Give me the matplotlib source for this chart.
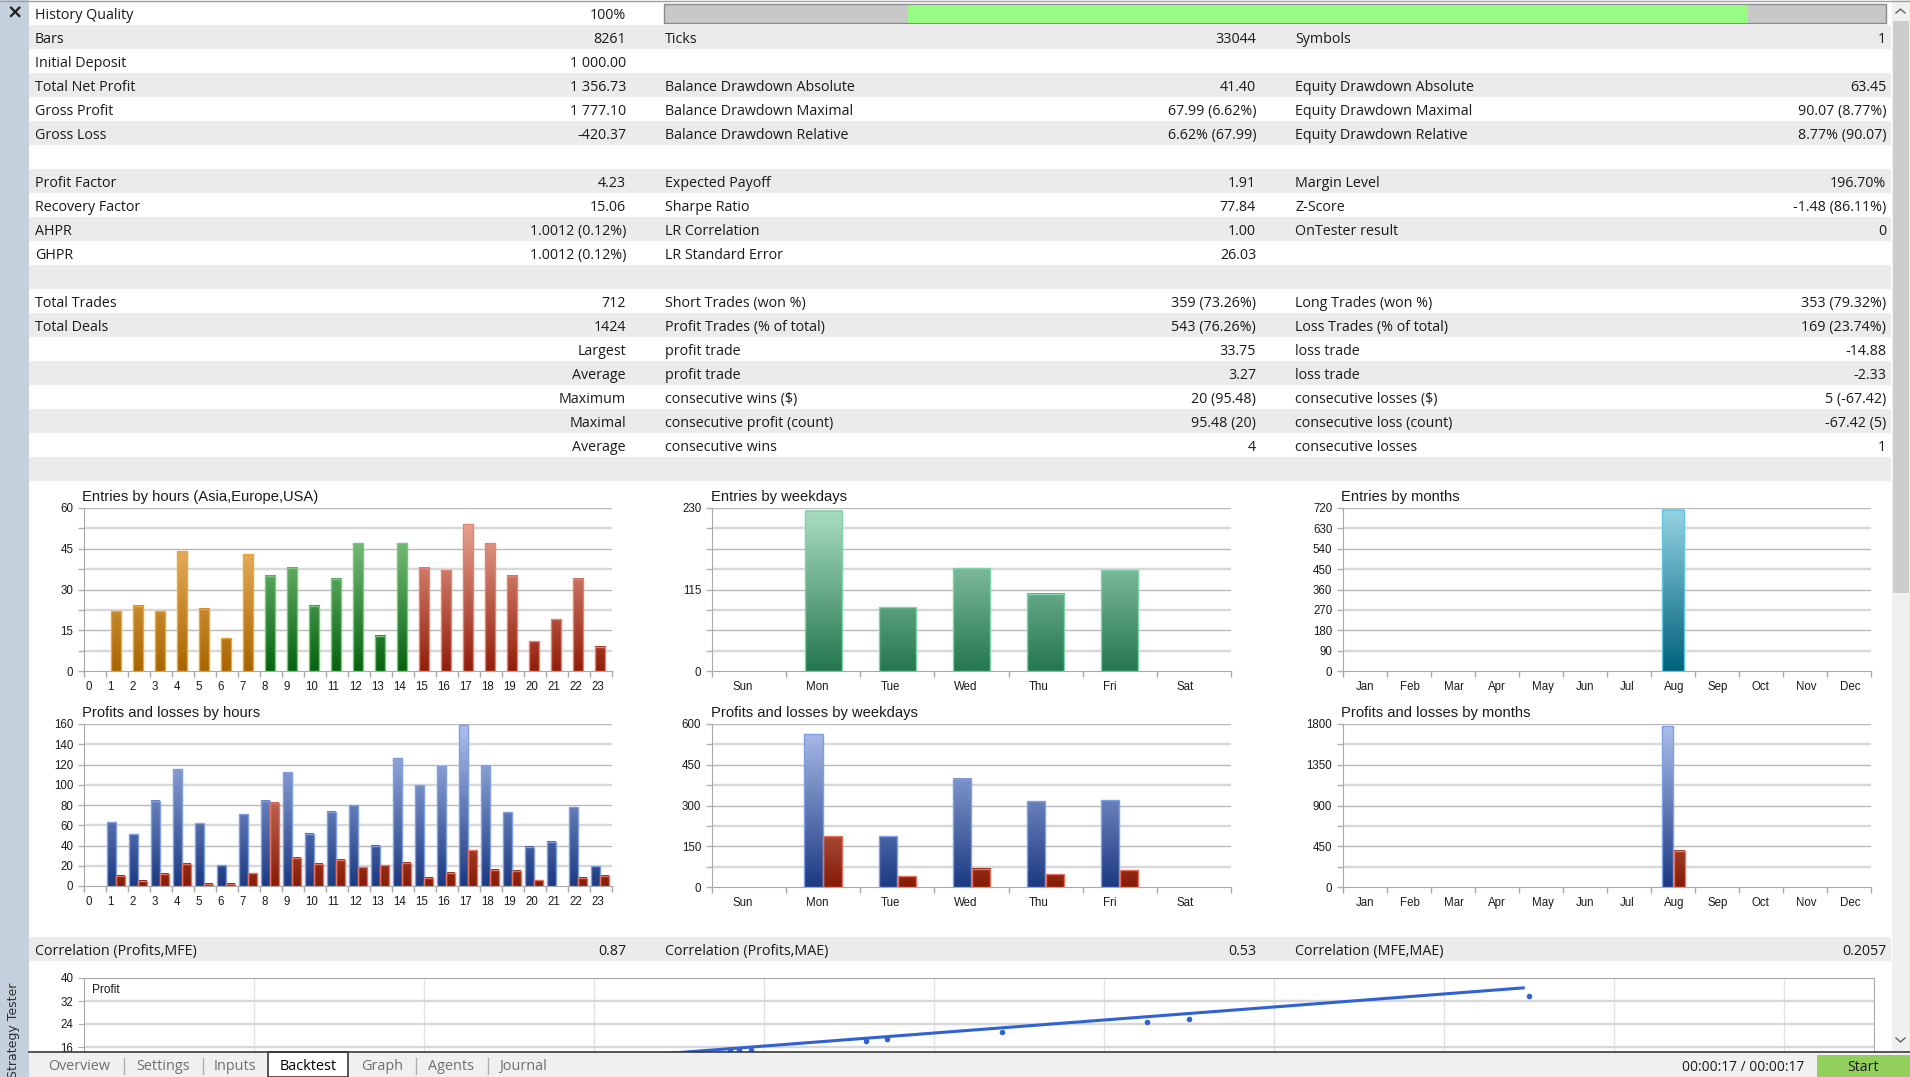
import numpy as np
import matplotlib
matplotlib.use('Agg')
import matplotlib.pyplot as plt
from matplotlib.patches import Rectangle
from matplotlib.colors import LinearSegmentedColormap

# -------------------- DATA --------------------
W, H = 1910, 1077

# summary table, 20 rows, three label/value columns
col1_labels = ["History Quality", "Bars", "Initial Deposit", "Total Net Profit", "Gross Profit",
               "Gross Loss", "", "Profit Factor", "Recovery Factor", "AHPR", "GHPR", "",
               "Total Trades", "Total Deals", "", "", "", "", "", ""]
col1_values = ["100%", "8261", "1 000.00", "1 356.73", "1 777.10", "-420.37", "", "4.23", "15.06",
               "1.0012 (0.12%)", "1.0012 (0.12%)", "", "712", "1424", "Largest", "Average",
               "Maximum", "Maximal", "Average", ""]
col2_labels = ["", "Ticks", "", "Balance Drawdown Absolute", "Balance Drawdown Maximal",
               "Balance Drawdown Relative", "", "Expected Payoff", "Sharpe Ratio", "LR Correlation",
               "LR Standard Error", "", "Short Trades (won %)", "Profit Trades (% of total)",
               "profit trade", "profit trade", "consecutive wins ($)", "consecutive profit (count)",
               "consecutive wins", ""]
col2_values = ["", "33044", "", "41.40", "67.99 (6.62%)", "6.62% (67.99)", "", "1.91", "77.84", "1.00",
               "26.03", "", "359 (73.26%)", "543 (76.26%)", "33.75", "3.27", "20 (95.48)",
               "95.48 (20)", "4", ""]
col3_labels = ["", "Symbols", "", "Equity Drawdown Absolute", "Equity Drawdown Maximal",
               "Equity Drawdown Relative", "", "Margin Level", "Z-Score", "OnTester result", "", "",
               "Long Trades (won %)", "Loss Trades (% of total)", "loss trade", "loss trade",
               "consecutive losses ($)", "consecutive loss (count)", "consecutive losses", ""]
col3_values = ["", "1", "", "63.45", "90.07 (8.77%)", "8.77% (90.07)", "", "196.70%", "-1.48 (86.11%)",
               "0", "", "", "353 (79.32%)", "169 (23.74%)", "-14.88", "-2.33", "5 (-67.42)",
               "-67.42 (5)", "1", ""]

history_quality = [0.2, 0.887]   # green part of the quality bar (start, end)

corr_labels = ["Correlation (Profits,MFE)", "Correlation (Profits,MAE)", "Correlation (MFE,MAE)"]
corr_values = ["0.87", "0.53", "0.2057"]

hours = [str(h) for h in range(24)]
entries_hours = [0, 22, 24, 22, 44, 23, 12, 43, 35, 38, 24, 34, 47, 13, 47, 38, 37, 54, 47, 35, 11, 19, 34, 9]
profit_hours = [0, 62.9, 51, 84.2, 115.5, 62.2, 20.7, 71, 84, 112.5, 51.6, 73.4, 80, 39.8, 126.4,
                99.4, 118.1, 158.6, 118.8, 72.7, 39, 43.8, 77.7, 19.4]
loss_hours = [0, 9.9, 5.3, 12, 22, 2, 2, 12.5, 82, 28, 22, 25.7, 18.4, 20.7, 23, 8.2, 13, 35.5,
              16, 15, 5.6, 0, 8, 10]
session_of_hour = ["asia"] * 8 + ["europe"] * 7 + ["usa"] * 9

weekdays = ["Sun", "Mon", "Tue", "Wed", "Thu", "Fri", "Sat"]
entries_weekdays = [0, 226, 90, 145, 109, 142, 0]
profit_weekdays = [0, 563, 186, 398, 315, 319, 0]
loss_weekdays = [0, 186, 39, 67, 47, 62, 0]

months = ["Jan", "Feb", "Mar", "Apr", "May", "Jun", "Jul", "Aug", "Sep", "Oct", "Nov", "Dec"]
entries_months = [0, 0, 0, 0, 0, 0, 0, 712, 0, 0, 0, 0]
profit_months = [0, 0, 0, 0, 0, 0, 0, 1777, 0, 0, 0, 0]
loss_months = [0, 0, 0, 0, 0, 0, 0, 400, 0, 0, 0, 0]

# profit vs MFE scatter (only the top of it is visible)
mfe_x = [15.2, 15.4, 15.7, 18.4, 18.9, 21.6, 25.0, 26.0, 34.0]
mfe_profit = [14.8, 14.9, 14.8, 18.1, 18.8, 21.2, 24.7, 25.7, 33.7]
trend_x = [12.0, 33.9]
trend_y = [11.8, 36.6]

tabs = ["Overview", "Settings", "Inputs", "Backtest", "Graph", "Agents", "Journal"]

# -------------------- STYLE --------------------
TABLE_FONT = "Open Sans"
TABLE_SIZE = 10.3
CHART_FONT = "Liberation Sans"
plt.rcParams['font.family'] = [CHART_FONT, 'DejaVu Sans']

COLORS = {  # bottom, top, edge
    "asia": ("#a86400", "#f8c47c", "#f2a52e"),
    "europe": ("#06620f", "#92d292", "#78c878"),
    "usa": ("#921e0a", "#f0b0a0", "#e8806c"),
    "week": ("#25774f", "#acdfc6", "#7fd3a8"),
    "month": ("#00627c", "#96d4e4", "#5cc6e0"),
    "profit": ("#1c3a82", "#aec0ec", "#7e9ee6"),
    "loss": ("#861c06", "#eaa898", "#e8705c"),
}

fig = plt.figure(figsize=(W / 100, H / 100), dpi=100)
fig.patch.set_facecolor("white")


def px_axes(x0, y0, x1, y1, **kw):
    return fig.add_axes([x0 / W, 1 - y1 / H, (x1 - x0) / W, (y1 - y0) / H], **kw)


def gradient_bars(ax, xs, vals, width, key, ymax):
    # empty categories get no bar at all
    xs = [x for x, v in zip(xs, vals) if v > 0]
    vals = [v for v in vals if v > 0]
    bot, top, edge = COLORS[key]
    cmap = LinearSegmentedColormap.from_list(key, [bot, top])
    bars = ax.bar(xs, vals, width, facecolor="none", edgecolor=edge, linewidth=1.0, zorder=4)
    for b in bars:
        h = b.get_height()
        grad = np.linspace(h / ymax, 0, 80).reshape(-1, 1)
        ax.imshow(grad, cmap=cmap, vmin=0, vmax=1, aspect="auto", origin="upper",
                  extent=(b.get_x(), b.get_x() + b.get_width(), 0, h), zorder=3,
                  interpolation="bilinear")


def style_chart(ax, labels, ymax, label_step, label_pos):
    n = len(labels)
    levels = np.linspace(0, ymax, 9)
    for k, lv in enumerate(levels[1:], start=1):
        dark = (8 - k) % 2 == 0
        ax.axhline(lv, color="#b8b8b8" if dark else "#d8d8d8", lw=1.0 if dark else 1.7, zorder=1)
    ax.set_xlim(-0.5, n - 0.5)
    ax.set_ylim(0, ymax)
    ax.set_yticks(levels)
    ax.set_yticklabels([f"{lv:g}" if abs(lv / label_step - round(lv / label_step)) < 1e-6 else ""
                        for lv in levels])
    ax.set_xticks(np.arange(n) - 0.5 + label_pos)
    ax.set_xticklabels(labels, ha="left")
    ax.set_xticks(np.arange(n + 1) - 0.5, minor=True)
    ax.tick_params(axis="x", which="major", length=0, pad=7.5, labelsize=8.3, labelcolor="#1a1a1a")
    ax.tick_params(axis="x", which="minor", length=4.5, color="#a8a8a8", width=1)
    ax.tick_params(axis="y", length=4.5, color="#b0b0b0", width=1, pad=3.2, labelsize=8.3,
                   labelcolor="#1a1a1a")
    for s in ("top", "right"):
        ax.spines[s].set_visible(False)
    for s in ("left", "bottom"):
        ax.spines[s].set_color("#a8a8a8")
    ax.patch.set_alpha(0)


def table_text(x, y, s, ha):
    bg.text(x, y, s, fontsize=TABLE_SIZE, family=TABLE_FONT, ha=ha, va="baseline", color="#1a1a1a")


# -------------------- BACKGROUND / TABLE --------------------
bg = px_axes(0, 0, W, H)
bg.set_xlim(0, W)
bg.set_ylim(H, 0)
bg.axis("off")

bg.add_patch(Rectangle((0, 0), 29, H, facecolor="#c4d0dc", edgecolor="none"))
bg.plot([0, W], [0.5, 0.5], color="#a0a0a0", lw=1)
bg.text(15, 13, "\u00d7", fontsize=14, fontweight="bold", ha="center", va="center",
        family="DejaVu Sans", color="#202020")

ROW_H = 24
for i in range(20):
    y0 = 1 + ROW_H * i
    if i % 2 == 1:
        bg.add_patch(Rectangle((29, y0), 1862, ROW_H, facecolor="#ebebeb", edgecolor="none"))
    yb = y0 + 18.3
    for lab, val, xl, xr in ((col1_labels[i], col1_values[i], 35, 626),
                             (col2_labels[i], col2_values[i], 665, 1256),
                             (col3_labels[i], col3_values[i], 1295, 1886)):
        if lab:
            table_text(xl, yb, lab, "left")
        if val:
            table_text(xr, yb, val, "right")

# history quality bar
qx0, qx1 = 664, 1886
qw = qx1 - qx0
bg.add_patch(Rectangle((qx0, 4), qw, 19, facecolor="#c8c8c8", edgecolor="#8a8a8a", lw=1))
bg.add_patch(Rectangle((qx0 + qw * history_quality[0], 4.5),
                       qw * (history_quality[1] - history_quality[0]), 18,
                       facecolor="#98fb82", edgecolor="none"))

# correlation row
bg.add_patch(Rectangle((29, 937), 1862, ROW_H, facecolor="#ebebeb", edgecolor="none"))
for lab, val, xl, xr in zip(corr_labels, corr_values, (35, 665, 1295), (626, 1256, 1886)):
    table_text(xl, 955.3, lab, "left")
    table_text(xr, 955.3, val, "right")

# scrollbar
bg.add_patch(Rectangle((1892, 0), 18, 1051, facecolor="#f0f0f0", edgecolor="none"))
bg.add_patch(Rectangle((1893, 21), 16, 572, facecolor="#cdcdcd", edgecolor="none"))
bg.plot([1896, 1900.5, 1905], [13, 9, 13], color="#606060", lw=1)
bg.plot([1896, 1900.5, 1905], [1038, 1042, 1038], color="#606060", lw=1)

# chart titles
for x, y, t in ((82, 501, "Entries by hours (Asia,Europe,USA)"), (711, 501, "Entries by weekdays"),
                (1341, 501, "Entries by months"), (82, 717, "Profits and losses by hours"),
                (711, 717, "Profits and losses by weekdays"), (1341, 717, "Profits and losses by months")):
    bg.text(x, y, t, fontsize=10.6, ha="left", va="baseline", color="#1a1a1a")

# -------------------- CHARTS --------------------
ymax = 60
ax = px_axes(84, 508, 612, 671)
for key in ("asia", "europe", "usa"):
    idx = [i for i, s in enumerate(session_of_hour) if s == key]
    gradient_bars(ax, [i - 0.04 for i in idx], [entries_hours[i] for i in idx], 0.48, key, ymax)
style_chart(ax, hours, ymax, 15, 0.07)

ymax = 160
ax = px_axes(84, 724, 612, 886)
x = np.arange(len(hours))
gradient_bars(ax, x - 0.25, profit_hours, 0.39, "profit", ymax)
gradient_bars(ax, x + 0.157, loss_hours, 0.39, "loss", ymax)
style_chart(ax, hours, ymax, 20, 0.07)

ymax = 230
ax = px_axes(712, 508, 1231, 671)
gradient_bars(ax, np.arange(len(weekdays)), entries_weekdays, 0.5, "week", ymax)
style_chart(ax, weekdays, ymax, 115, 0.27)

ymax = 600
ax = px_axes(712, 724, 1231, 887)
x = np.arange(len(weekdays))
gradient_bars(ax, x - 0.131, profit_weekdays, 0.246, "profit", ymax)
gradient_bars(ax, x + 0.126, loss_weekdays, 0.246, "loss", ymax)
style_chart(ax, weekdays, ymax, 150, 0.27)

ymax = 720
ax = px_axes(1343, 508, 1871, 671)
gradient_bars(ax, np.arange(len(months)), entries_months, 0.5, "month", ymax)
style_chart(ax, months, ymax, 90, 0.295)

ymax = 1800
ax = px_axes(1343, 724, 1871, 887)
x = np.arange(len(months))
gradient_bars(ax, x - 0.121, profit_months, 0.25, "profit", ymax)
gradient_bars(ax, x + 0.149, loss_months, 0.25, "loss", ymax)
style_chart(ax, months, ymax, 450, 0.295)

# profit / MFE scatter, cut off by the tab bar
sc = px_axes(84, 978, 1874, 1077)
sc.set_xlim(0, (1874 - 84) / 170 * 4)
sc.set_ylim(40 - 99 / 23 * 8, 40)
for gx in np.arange(4, 42, 4):
    sc.axvline(gx, color="#e2e2e2", lw=1, zorder=1)
for gy in (8, 16, 24, 32):
    sc.axhline(gy, color="#d8d8d8", lw=1.7, zorder=1)
sc.plot(trend_x, trend_y, color="#3062d4", lw=2.2, zorder=3, solid_capstyle="butt")
sc.plot(mfe_x, mfe_profit, "o", color="#2f62d2", ms=4, mec="none", zorder=4)
sc.set_xticks([])
sc.set_yticks([8, 16, 24, 32, 40])
sc.tick_params(axis="y", length=4.5, color="#b0b0b0", pad=3.2, labelsize=8.3, labelcolor="#1a1a1a")
for s in sc.spines.values():
    s.set_color("#a8a8a8")
sc.spines["bottom"].set_visible(False)
sc.patch.set_alpha(0)
sc.text(0.18, 35.9, "Profit", fontsize=8.6, ha="left", va="center", color="#1a1a1a")

# -------------------- TAB BAR --------------------
top = px_axes(0, 0, W, H, zorder=10)
top.set_xlim(0, W)
top.set_ylim(H, 0)
top.axis("off")
top.add_patch(Rectangle((29, 1052), W - 29, H - 1052, facecolor="#f0f0f0", edgecolor="none"))
top.plot([29, W], [1052, 1052], color="#3a3a3a", lw=1.2)
top.add_patch(Rectangle((268, 1052), 80, H - 1052, facecolor="white", edgecolor="#3a3a3a", lw=1.2))
for sx in (124, 203, 416, 488):
    top.plot([sx, sx], [1058, 1074], color="#b0b0b0", lw=1)
for name, cx in zip(tabs, (79, 163, 235, 308, 382, 451, 523)):
    top.text(cx, 1070, name, fontsize=10.4, family=TABLE_FONT, ha="center", va="baseline",
             color="black" if name == "Backtest" else "#707070")
top.text(1804, 1071, "00:00:17 / 00:00:17", fontsize=9.9, family=TABLE_FONT, ha="right",
         va="baseline", color="#1a1a1a")
top.add_patch(Rectangle((1817, 1055), W - 1817, H - 1055, facecolor="#92cf5c", edgecolor="none"))
top.text(1863, 1071, "Start", fontsize=10.2, family=TABLE_FONT, ha="center", va="baseline",
         color="#1a1a1a")
top.add_patch(Rectangle((0, 960), 29, H - 960, facecolor="#c4d0dc", edgecolor="none"))
top.text(13, 1030, "Strategy Tester", fontsize=9, family="DejaVu Sans", rotation=90, ha="center",
         va="center", color="#303030")

fig.savefig("out.png", dpi=100)
